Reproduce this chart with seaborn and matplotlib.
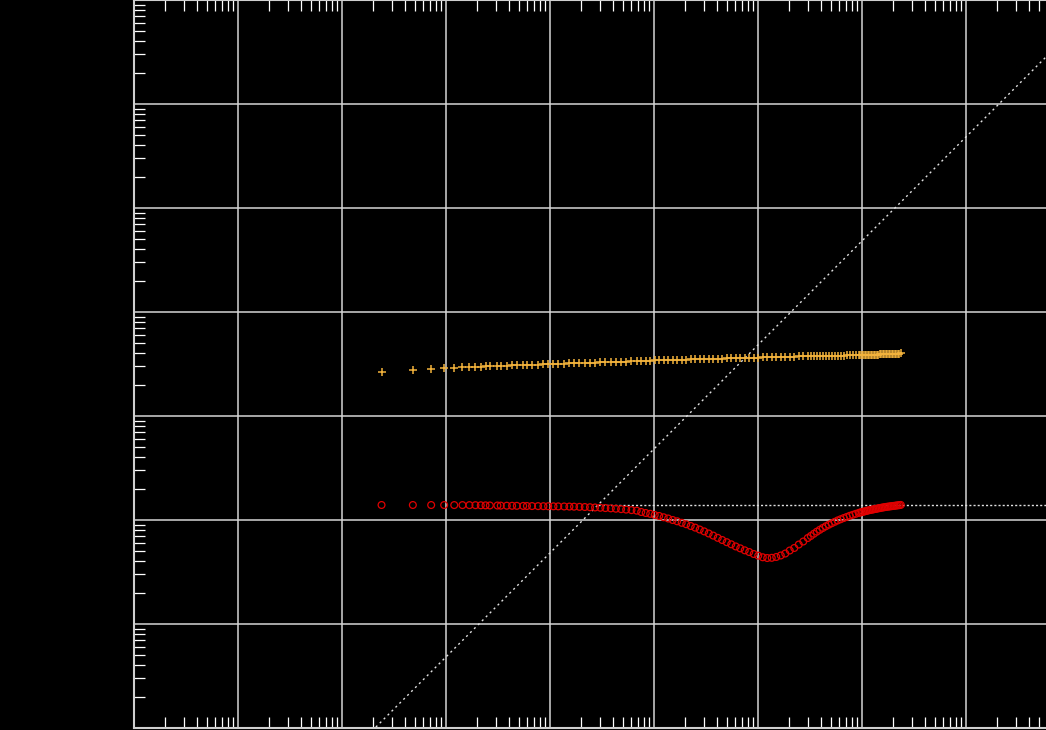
import matplotlib
matplotlib.use("Agg")
import matplotlib.pyplot as plt
import matplotlib.ticker as mticker
import seaborn as sns

# Data (log-log, arbitrary units)
# --------------------------------
tau0 = 240.0  # basic sampling interval
avg_factor = [
    1, 2, 3, 4, 5, 6, 7, 8,
    9, 10, 11, 13, 14, 16, 18, 20, 23, 25, 28, 32, 36, 40, 45, 50, 57, 64, 71, 80,
    90, 101, 113, 127, 142, 160, 179, 201, 225, 253, 284,
    314, 347, 383, 423, 467, 516, 570, 630, 696, 769, 850, 939, 1037, 1146, 1266,
    1399, 1546, 1708, 1887, 2084, 2303, 2544, 2811, 3106, 3431, 3791, 4189, 4628,
    5113, 5649, 6241, 6896, 7619, 8417, 9300, 10275, 11352, 12543,
    13406, 14326, 15311, 16362, 17484, 18683, 19970, 21340, 22808, 24372, 26050,
    27838, 29752, 31793, 33983, 36308, 38807,
    40115, 41468, 42871, 44318, 45814, 47362, 48958, 50617, 52325, 54089, 55912,
    57797, 59746, 61774, 63858, 66012, 68234, 70533, 72911, 75405, 77948, 80575,
    83291, 86099, 89001, 92003, 95111, 98310,
]

orange_vals = [
    2.67, 2.77, 2.83, 2.87, 2.90, 2.93, 2.95, 2.97,
    2.99, 3.00, 3.02, 3.03, 3.04, 3.05, 3.06, 3.07, 3.09, 3.10, 3.11, 3.12, 3.14,
    3.15, 3.16, 3.17, 3.19, 3.20, 3.21, 3.22, 3.24, 3.25, 3.26, 3.28, 3.29, 3.30,
    3.32, 3.33, 3.34, 3.36, 3.37,
    3.39, 3.40, 3.41, 3.42, 3.43, 3.44, 3.45, 3.46, 3.47, 3.48, 3.49, 3.50, 3.51,
    3.52, 3.53, 3.54, 3.55, 3.56, 3.57, 3.58, 3.59, 3.60, 3.61, 3.62, 3.63, 3.64,
    3.65, 3.66, 3.67, 3.68, 3.69, 3.70, 3.71, 3.72, 3.73, 3.74, 3.75, 3.76,
    3.765, 3.77, 3.775, 3.78, 3.785, 3.79, 3.795, 3.80, 3.80, 3.805, 3.81, 3.815,
    3.82, 3.82, 3.825, 3.83, 3.835,
    3.84, 3.845, 3.85, 3.855, 3.86, 3.865, 3.87, 3.875, 3.88, 3.885, 3.89, 3.895,
    3.90, 3.905, 3.91, 3.915, 3.92, 3.925, 3.93, 3.935, 3.94, 3.945, 3.95, 3.955,
    3.96, 3.97, 3.98, 3.99,
]

red_vals = [
    0.1394, 0.1394, 0.1393, 0.1393, 0.1392, 0.1391, 0.1390, 0.1389,
    0.1385, 0.1383, 0.1380, 0.1378, 0.1375, 0.1372, 0.1370, 0.1368, 0.1366, 0.1364,
    0.1362, 0.1360, 0.1358, 0.1356, 0.1354, 0.1352, 0.1349, 0.1346, 0.1343, 0.1338,
    0.1333, 0.1327, 0.1320, 0.1312, 0.1303, 0.1294, 0.1284, 0.1272, 0.1259, 0.1245,
    0.1230,
    0.1194, 0.1168, 0.1147, 0.1117, 0.1093, 0.1062, 0.1034, 0.1000, 0.0972, 0.0940,
    0.0911, 0.0876, 0.0845, 0.0810, 0.0777, 0.0742, 0.0708, 0.0674, 0.0642, 0.0612,
    0.0584, 0.0557, 0.0534, 0.0511, 0.0492, 0.0471, 0.0454, 0.0438, 0.0431, 0.0433,
    0.0441, 0.0456, 0.0476, 0.0509, 0.0538, 0.0581, 0.0621, 0.0671,
    0.0702, 0.0737, 0.0772, 0.0805, 0.0838, 0.0870, 0.0901, 0.0931, 0.0961, 0.0991,
    0.1018, 0.1045, 0.1071, 0.1098, 0.1122, 0.1147, 0.1171,
    0.1181, 0.1191, 0.1202, 0.1212, 0.1222, 0.1233, 0.1243, 0.1251, 0.1259, 0.1268,
    0.1276, 0.1285, 0.1294, 0.1302, 0.1311, 0.1320, 0.1326, 0.1335, 0.1341, 0.1347,
    0.1353, 0.1359, 0.1365, 0.1371, 0.1377, 0.1384, 0.1390, 0.1396,
]

# reference lines: plateau level and where the unit-slope line meets it
plateau = 0.1394
tau_cross = 28900.0
x_limits = (1e0, 1e9)
y_limits = (1e-3, 1e4)

taus = [tau0 * m for m in avg_factor]

# Style
# --------------------------------
sns.set_theme(style="ticks", rc={
    "figure.facecolor": "black",
    "axes.facecolor": "black",
    "axes.edgecolor": "#cfcfcf",
    "axes.linewidth": 1.5,
    "grid.color": "#d6d6d6",
    "grid.linewidth": 1.1,
})

fig = plt.figure(figsize=(10.46, 7.30), dpi=100)
ax = fig.add_axes([134 / 1046, 2 / 730, 936 / 1046, 728 / 730])

# dotted guide lines
diag_x = [x_limits[0], x_limits[1]]
diag_y = [plateau * x / tau_cross for x in diag_x]
ax.plot(diag_x, diag_y, color="#e0e0e0", lw=1.0, ls=(0, (1.5, 2.5)), zorder=2)
ax.plot([tau_cross, x_limits[1]], [plateau, plateau], color="#e0e0e0", lw=1.0,
        ls=(0, (1.5, 1.5)), zorder=2)

sns.scatterplot(x=taus, y=orange_vals, ax=ax, marker="+", s=30, color="#f2b23c",
                linewidth=1.1, zorder=3)
sns.scatterplot(x=taus, y=red_vals, ax=ax, marker="o", s=24, color="#e00000",
                facecolor="none", edgecolor="#e00000", linewidth=0.9, zorder=3)

ax.set_xscale("log")
ax.set_yscale("log")
ax.set_xlim(*x_limits)
ax.set_ylim(*y_limits)

for axis in (ax.xaxis, ax.yaxis):
    axis.set_major_locator(mticker.LogLocator(base=10, numticks=20))
    axis.set_minor_locator(mticker.LogLocator(base=10, subs=range(2, 10), numticks=200))
    axis.set_major_formatter(mticker.NullFormatter())
    axis.set_minor_formatter(mticker.NullFormatter())

ax.grid(True, which="major")
ax.tick_params(which="major", length=0)
ax.tick_params(which="minor", direction="in", length=8, width=0.9, color="white",
               top=True, bottom=True, left=True, right=True)
for side in ("left", "top", "bottom", "right"):
    ax.spines[side].set_visible(True)
    ax.spines[side].set_color("#cfcfcf")

fig.savefig("out.png", dpi=100, facecolor="black")
